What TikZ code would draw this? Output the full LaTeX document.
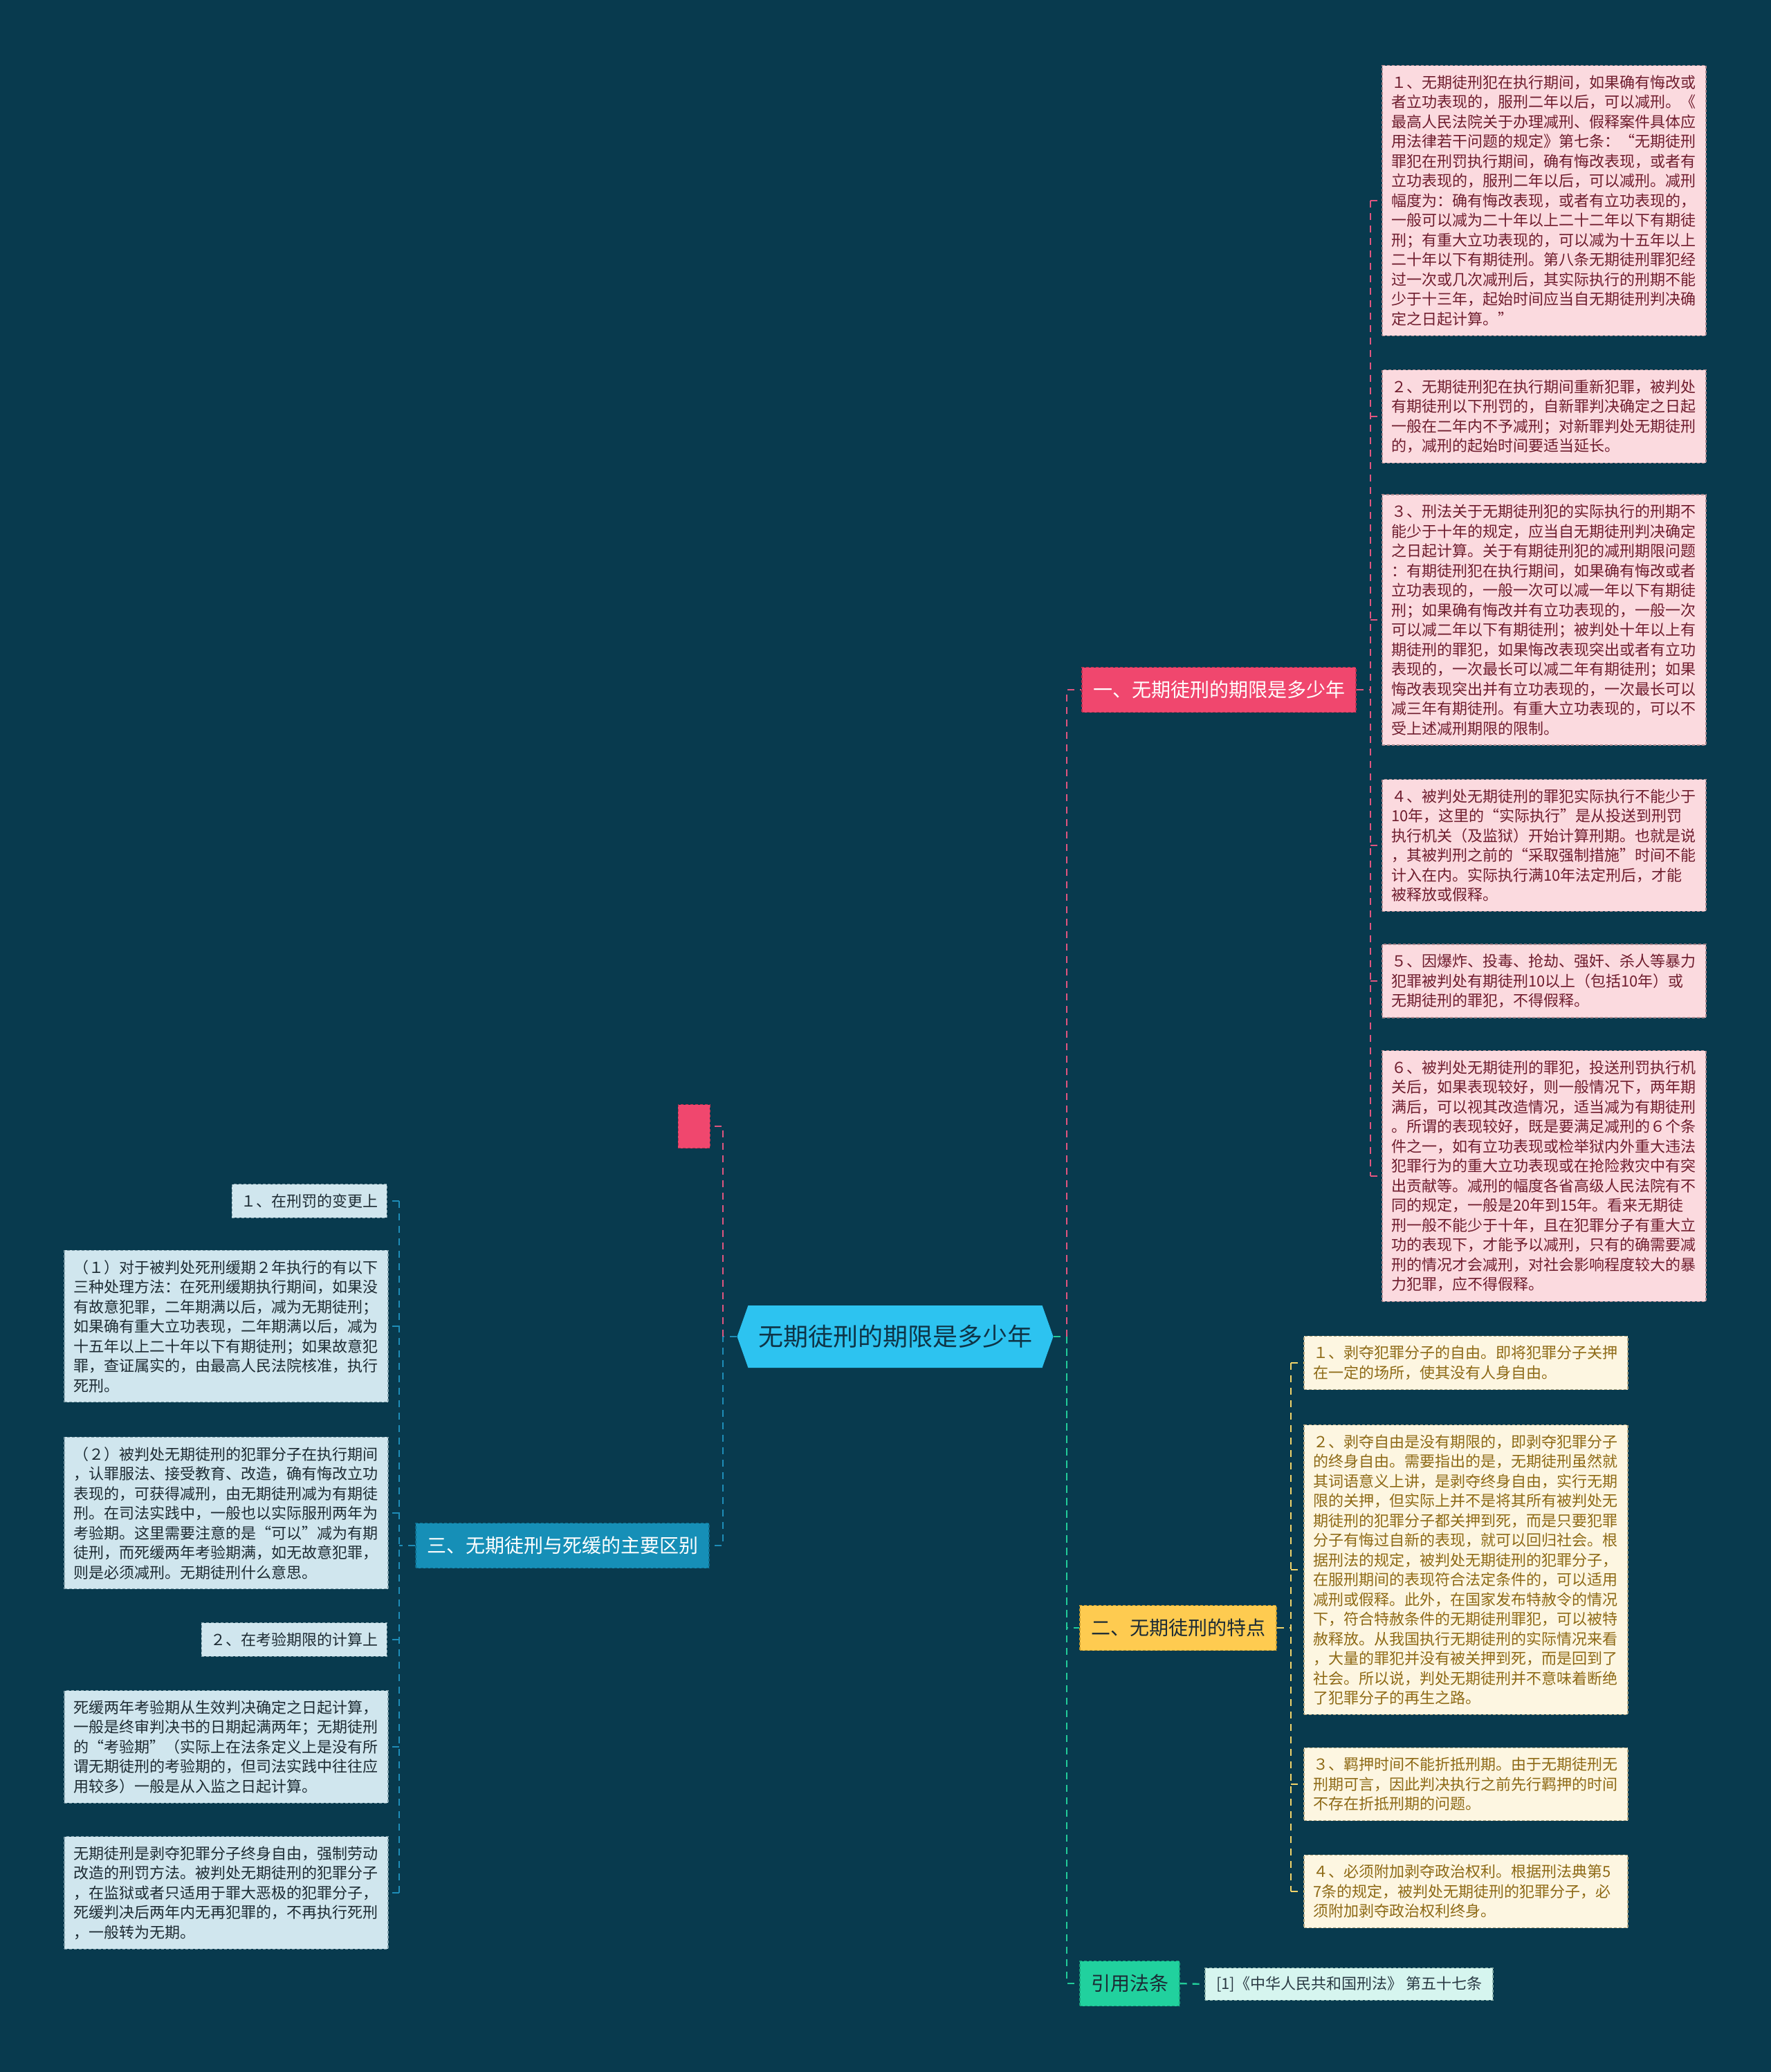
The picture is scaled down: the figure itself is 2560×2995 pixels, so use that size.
\documentclass[tikz,border=0pt]{standalone}
\usepackage{fontspec}
\usepackage{xcolor}
\usepackage{tikz}
\usetikzlibrary{shapes.symbols}
\newfontfamily\cjk{Noto Sans CJK SC}

\definecolor{bgcol}{HTML}{083A4E}
\definecolor{rootfill}{HTML}{2DC3F0}
\definecolor{roottext}{HTML}{0E3447}
\definecolor{onefill}{HTML}{F0476E}
\definecolor{oneedge}{HTML}{B8304F}
\definecolor{twofill}{HTML}{FECB50}
\definecolor{twoedge}{HTML}{C99A2A}
\definecolor{threefill}{HTML}{168FB7}
\definecolor{threeedge}{HTML}{0E6A8A}
\definecolor{citefill}{HTML}{21D19E}
\definecolor{citeedge}{HTML}{16A37A}
\definecolor{darktext}{HTML}{1B2B35}
\definecolor{pinkfill}{HTML}{FBDADF}
\definecolor{pinkedge}{HTML}{A9868D}
\definecolor{pinktext}{HTML}{6F1D2E}
\definecolor{yellowfill}{HTML}{FDF6E1}
\definecolor{yellowedge}{HTML}{B0A47F}
\definecolor{yellowtext}{HTML}{8E6A16}
\definecolor{bluefill}{HTML}{D0E6EE}
\definecolor{blueedge}{HTML}{7F9DA8}
\definecolor{bluetext}{HTML}{1D2B33}
\definecolor{reffill}{HTML}{D6F5EF}
\definecolor{refedge}{HTML}{86ADA5}
\definecolor{reftext}{HTML}{2A3A44}
\definecolor{pinkline}{HTML}{E0557F}
\definecolor{yellowline}{HTML}{F2D46A}
\definecolor{blueline}{HTML}{1E8DB8}
\definecolor{greenline}{HTML}{22CC99}

\begin{document}
\begin{tikzpicture}[x=0.5pt, y=-0.5pt,
    leaf/.style={draw, dash pattern=on 2pt off 1.5pt, line width=0.6pt, align=left,
        inner xsep=6.5pt, inner ysep=7pt, font=\cjk\fontsize{11}{14.25}\selectfont},
    wide/.style={text width=221pt},
    pinkleaf/.style={leaf, wide, fill=pinkfill, draw=pinkedge, text=pinktext},
    yellowleaf/.style={leaf, wide, fill=yellowfill, draw=yellowedge, text=yellowtext},
    blueleaf/.style={leaf, fill=bluefill, draw=blueedge, text=bluetext},
    refleaf/.style={leaf, fill=reffill, draw=refedge, text=reftext, inner xsep=8pt, inner ysep=6pt},
    branch/.style={draw, dash pattern=on 2pt off 1.5pt, line width=0.6pt, inner xsep=8pt,
        minimum height=32.5pt, font=\cjk\fontsize{14}{16}\selectfont},
    root/.style={shape=signal, signal to=east and west, signal pointer angle=141,
        fill=rootfill, text=roottext, minimum width=228.5pt, minimum height=45pt,
        inner sep=0pt, font=\cjk\fontsize{18}{20}\selectfont},
    link/.style={line width=1.2pt, dash pattern=on 5pt off 4pt}
]

\fill[bgcol] (0,0) rectangle (2560,2995);
\useasboundingbox (0,0) rectangle (2560,2995);

\node[root] (root) at (1294,1932) {无期徒刑的期限是多少年};

\node[branch, fill=onefill, draw=oneedge, text=white] (one) at (1762,997) {一、无期徒刑的期限是多少年};
\node[branch, fill=twofill, draw=twoedge, text=darktext] (two) at (1703,2353) {二、无期徒刑的特点};
\node[branch, fill=threefill, draw=threeedge, text=white] (three) at (813,2234) {三、无期徒刑与死缓的主要区别};
\node[branch, fill=citefill, draw=citeedge, text=darktext] (cite) at (1633,2867) {引用法条};
\node[draw=oneedge, dash pattern=on 2pt off 1.5pt, fill=onefill, minimum width=23pt, minimum height=31.5pt, inner sep=0pt] (dot) at (1003,1628) {};

% 一
\node[pinkleaf] (p1) at (2232,290) {１、无期徒刑犯在执行期间，如果确有悔改或\\
者立功表现的，服刑二年以后，可以减刑。《\\
最高人民法院关于办理减刑、假释案件具体应\\
用法律若干问题的规定》第七条：“无期徒刑\\
罪犯在刑罚执行期间，确有悔改表现，或者有\\
立功表现的，服刑二年以后，可以减刑。减刑\\
幅度为：确有悔改表现，或者有立功表现的，\\
一般可以减为二十年以上二十二年以下有期徒\\
刑；有重大立功表现的，可以减为十五年以上\\
二十年以下有期徒刑。第八条无期徒刑罪犯经\\
过一次或几次减刑后，其实际执行的刑期不能\\
少于十三年，起始时间应当自无期徒刑判决确\\
定之日起计算。”};
\node[pinkleaf] (p2) at (2232,602) {２、无期徒刑犯在执行期间重新犯罪，被判处\\
有期徒刑以下刑罚的，自新罪判决确定之日起\\
一般在二年内不予减刑；对新罪判处无期徒刑\\
的，减刑的起始时间要适当延长。};
\node[pinkleaf] (p3) at (2232,896) {３、刑法关于无期徒刑犯的实际执行的刑期不\\
能少于十年的规定，应当自无期徒刑判决确定\\
之日起计算。关于有期徒刑犯的减刑期限问题\\
：有期徒刑犯在执行期间，如果确有悔改或者\\
立功表现的，一般一次可以减一年以下有期徒\\
刑；如果确有悔改并有立功表现的，一般一次\\
可以减二年以下有期徒刑；被判处十年以上有\\
期徒刑的罪犯，如果悔改表现突出或者有立功\\
表现的，一次最长可以减二年有期徒刑；如果\\
悔改表现突出并有立功表现的，一次最长可以\\
减三年有期徒刑。有重大立功表现的，可以不\\
受上述减刑期限的限制。};
\node[pinkleaf] (p4) at (2232,1222) {４、被判处无期徒刑的罪犯实际执行不能少于\\
10年，这里的“实际执行”是从投送到刑罚\\
执行机关（及监狱）开始计算刑期。也就是说\\
，其被判刑之前的“采取强制措施”时间不能\\
计入在内。实际执行满10年法定刑后，才能\\
被释放或假释。};
\node[pinkleaf] (p5) at (2232,1418) {５、因爆炸、投毒、抢劫、强奸、杀人等暴力\\
犯罪被判处有期徒刑10以上（包括10年）或\\
无期徒刑的罪犯，不得假释。};
\node[pinkleaf] (p6) at (2232,1700) {６、被判处无期徒刑的罪犯，投送刑罚执行机\\
关后，如果表现较好，则一般情况下，两年期\\
满后，可以视其改造情况，适当减为有期徒刑\\
。所谓的表现较好，既是要满足减刑的６个条\\
件之一，如有立功表现或检举狱内外重大违法\\
犯罪行为的重大立功表现或在抢险救灾中有突\\
出贡献等。减刑的幅度各省高级人民法院有不\\
同的规定，一般是20年到15年。看来无期徒\\
刑一般不能少于十年，且在犯罪分子有重大立\\
功的表现下，才能予以减刑，只有的确需要减\\
刑的情况才会减刑，对社会影响程度较大的暴\\
力犯罪，应不得假释。};

% 二
\node[yellowleaf] (y1) at (2119,1970) {１、剥夺犯罪分子的自由。即将犯罪分子关押\\
在一定的场所，使其没有人身自由。};
\node[yellowleaf] (y2) at (2119,2269) {２、剥夺自由是没有期限的，即剥夺犯罪分子\\
的终身自由。需要指出的是，无期徒刑虽然就\\
其词语意义上讲，是剥夺终身自由，实行无期\\
限的关押，但实际上并不是将其所有被判处无\\
期徒刑的犯罪分子都关押到死，而是只要犯罪\\
分子有悔过自新的表现，就可以回归社会。根\\
据刑法的规定，被判处无期徒刑的犯罪分子，\\
在服刑期间的表现符合法定条件的，可以适用\\
减刑或假释。此外，在国家发布特赦令的情况\\
下，符合特赦条件的无期徒刑罪犯，可以被特\\
赦释放。从我国执行无期徒刑的实际情况来看\\
，大量的罪犯并没有被关押到死，而是回到了\\
社会。所以说，判处无期徒刑并不意味着断绝\\
了犯罪分子的再生之路。};
\node[yellowleaf] (y3) at (2119,2579) {３、羁押时间不能折抵刑期。由于无期徒刑无\\
刑期可言，因此判决执行之前先行羁押的时间\\
不存在折抵刑期的问题。};
\node[yellowleaf] (y4) at (2119,2734) {４、必须附加剥夺政治权利。根据刑法典第5\\
7条的规定，被判处无期徒刑的犯罪分子，必\\
须附加剥夺政治权利终身。};

% 三
\node[blueleaf, anchor=east] (q1) at (560,1736) {１、在刑罚的变更上};
\node[blueleaf, wide] (q2) at (327,1917) {（１）对于被判处死刑缓期２年执行的有以下\\
三种处理方法：在死刑缓期执行期间，如果没\\
有故意犯罪，二年期满以后，减为无期徒刑；\\
如果确有重大立功表现，二年期满以后，减为\\
十五年以上二十年以下有期徒刑；如果故意犯\\
罪，查证属实的，由最高人民法院核准，执行\\
死刑。};
\node[blueleaf, wide] (q3) at (327,2187) {（２）被判处无期徒刑的犯罪分子在执行期间\\
，认罪服法、接受教育、改造，确有悔改立功\\
表现的，可获得减刑，由无期徒刑减为有期徒\\
刑。在司法实践中，一般也以实际服刑两年为\\
考验期。这里需要注意的是“可以”减为有期\\
徒刑，而死缓两年考验期满，如无故意犯罪，\\
则是必须减刑。无期徒刑什么意思。};
\node[blueleaf, anchor=east] (q4) at (560,2370) {２、在考验期限的计算上};
\node[blueleaf, wide] (q5) at (327,2525) {死缓两年考验期从生效判决确定之日起计算，\\
一般是终审判决书的日期起满两年；无期徒刑\\
的“考验期”（实际上在法条定义上是没有所\\
谓无期徒刑的考验期的，但司法实践中往往应\\
用较多）一般是从入监之日起计算。};
\node[blueleaf, wide] (q6) at (327,2736) {无期徒刑是剥夺犯罪分子终身自由，强制劳动\\
改造的刑罚方法。被判处无期徒刑的犯罪分子\\
，在监狱或者只适用于罪大恶极的犯罪分子，\\
死缓判决后两年内无再犯罪的，不再执行死刑\\
，一般转为无期。};

\node[refleaf] (r1) at (1950,2868) {[1]《中华人民共和国刑法》 第五十七条};

% trunks
\coordinate (kr) at (1542,1932);
\coordinate (kl) at (1045,1932);
\coordinate (k1) at (1981,997);
\coordinate (k2) at (1866,2353);
\coordinate (k3) at (577,2234);

\draw[link, greenline] (root.east) -- (kr) |- (two.west);
\draw[link, greenline] (kr) |- (cite.west);
\draw[link, pinkline] (kr) |- (one.west);
\draw[link, blueline] (root.west) -- (kl) |- (three.east);
\draw[link, pinkline] (kl) |- (dot.east);

\draw[link, pinkline] (one.east) -- (k1);
\draw[link, pinkline] (k1 |- p1.west) -- (k1 |- p6.west);
\foreach \n in {p1,p2,p3,p4,p5,p6}
    \draw[link, pinkline] (k1 |- \n.west) -- (\n.west);

\draw[link, yellowline] (two.east) -- (k2);
\draw[link, yellowline] (k2 |- y1.west) -- (k2 |- y4.west);
\foreach \n in {y1,y2,y3,y4}
    \draw[link, yellowline] (k2 |- \n.west) -- (\n.west);

\draw[link, blueline] (three.west) -- (k3);
\draw[link, blueline] (k3 |- q1.east) -- (k3 |- q6.east);
\foreach \n in {q1,q2,q3,q4,q5,q6}
    \draw[link, blueline] (k3 |- \n.east) -- (\n.east);

\draw[link, greenline] (cite.east) -- (r1.west);

\end{tikzpicture}
\end{document}
